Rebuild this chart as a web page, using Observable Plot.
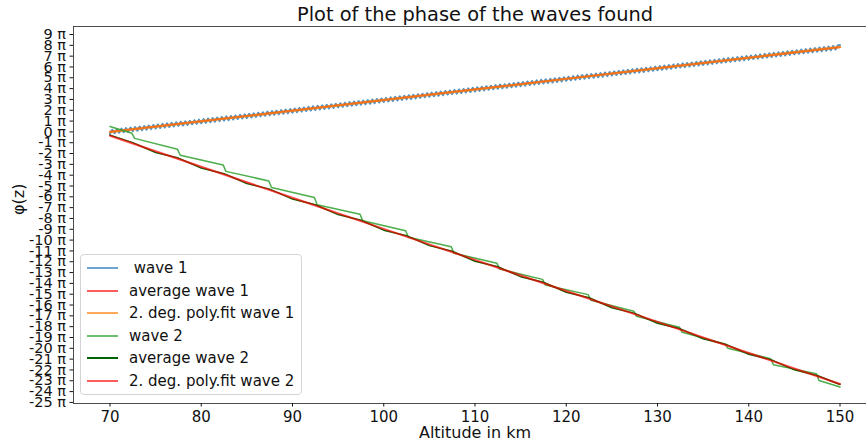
<!DOCTYPE html>
<html><head><meta charset="utf-8">
<script src="https://cdn.jsdelivr.net/npm/d3@7"></script>
<script src="https://cdn.jsdelivr.net/npm/@observablehq/plot@0.6"></script>
<style>
body{margin:0;overflow:hidden;background:#fff;font-family:"DejaVu Sans",sans-serif;}
#wrap{position:relative;width:866px;height:445px;overflow:hidden;}
.legend{position:absolute;left:80px;top:254px;width:220px;height:139px;border:1px solid #d4d4d4;border-radius:4px;background:rgba(255,255,255,0.8);font-family:"DejaVu Sans",sans-serif;font-size:15px;color:#111;}
.row{position:absolute;left:0;height:20px;line-height:20px;white-space:pre;}
.row .ln{position:absolute;left:6px;width:31px;height:2px;top:9px;}
.row .tx{position:absolute;left:48px;top:0;}
</style></head><body><div id="wrap"></div>
<script>
const title = "Plot of the phase of the waves found";
const xLabel = "Altitude in km";
const yLabel = "φ(z)";
const seriesNames = [" wave 1", "average wave 1", "2. deg. poly.fit wave 1", "wave 2", "average wave 2", "2. deg. poly.fit wave 2"];
const xTicks = [70, 80, 90, 100, 110, 120, 130, 140, 150];
const yTicks = d3.range(-25, 10);

// wave 1: sampled every 0.25 km from 70 km (phase in units of π)
const wave1Start = 70, wave1Step = 0.25;
const wave1 = [
-0.18,0.20,-0.13,0.25,-0.08,0.30,-0.03,0.35,0.02,0.40,0.07,0.45,0.11,0.49,0.16,0.54,0.21,0.59,0.26,0.64,
0.31,0.69,0.36,0.74,0.41,0.79,0.46,0.84,0.51,0.89,0.56,0.94,0.60,0.98,0.65,1.03,0.70,1.08,0.75,1.13,
0.80,1.18,0.85,1.23,0.90,1.28,0.95,1.33,1.00,1.38,1.05,1.43,1.09,1.47,1.14,1.52,1.19,1.57,1.24,1.62,
1.29,1.67,1.34,1.72,1.39,1.77,1.44,1.82,1.49,1.87,1.54,1.92,1.58,1.96,1.63,2.01,1.68,2.06,1.73,2.11,
1.78,2.16,1.83,2.21,1.88,2.26,1.93,2.31,1.98,2.36,2.03,2.41,2.07,2.45,2.12,2.50,2.17,2.55,2.22,2.60,
2.27,2.65,2.32,2.70,2.37,2.75,2.42,2.80,2.47,2.85,2.52,2.90,2.56,2.94,2.61,2.99,2.66,3.04,2.71,3.09,
2.76,3.14,2.81,3.19,2.86,3.24,2.91,3.29,2.96,3.34,3.01,3.39,3.05,3.43,3.10,3.48,3.15,3.53,3.20,3.58,
3.25,3.63,3.30,3.68,3.35,3.73,3.40,3.78,3.45,3.83,3.50,3.88,3.54,3.92,3.59,3.97,3.64,4.02,3.69,4.07,
3.74,4.12,3.79,4.17,3.84,4.22,3.89,4.27,3.94,4.32,3.99,4.37,4.03,4.41,4.08,4.46,4.13,4.51,4.18,4.56,
4.23,4.61,4.28,4.66,4.33,4.71,4.38,4.76,4.43,4.81,4.48,4.86,4.52,4.90,4.57,4.95,4.62,5.00,4.67,5.05,
4.72,5.10,4.77,5.15,4.82,5.20,4.87,5.25,4.92,5.30,4.97,5.35,5.01,5.39,5.06,5.44,5.11,5.49,5.16,5.54,
5.21,5.59,5.26,5.64,5.31,5.69,5.36,5.74,5.41,5.79,5.46,5.84,5.50,5.88,5.55,5.93,5.60,5.98,5.65,6.03,
5.70,6.08,5.75,6.13,5.80,6.18,5.85,6.23,5.90,6.28,5.95,6.33,5.99,6.37,6.04,6.42,6.09,6.47,6.14,6.52,
6.19,6.57,6.24,6.62,6.29,6.67,6.34,6.72,6.39,6.77,6.44,6.82,6.48,6.86,6.53,6.91,6.58,6.96,6.63,7.01,
6.68,7.06,6.73,7.11,6.78,7.16,6.83,7.21,6.88,7.26,6.93,7.31,6.97,7.35,7.02,7.40,7.07,7.45,7.12,7.50,
7.17,7.55,7.22,7.60,7.27,7.65,7.32,7.70,7.37,7.75,7.42,7.80,7.46,7.84,7.51,7.89,7.56,7.94,7.61,7.99,
8.04
];

const fitKm = [70, 80, 90, 100, 110, 120, 130, 140, 150];
const avg1 = [0.02, 0.99, 1.97, 2.95, 3.93, 4.91, 5.88, 6.86, 7.82];
const fit1 = [0.00, 0.98, 1.96, 2.94, 3.92, 4.90, 5.88, 6.86, 7.84];

const wave2Km = [70, 72.4, 72.7, 77.4, 77.7, 82.4, 82.7, 87.4, 87.7, 92.4, 92.7, 97.4, 97.7, 102.4, 102.7,
  107.4, 107.7, 112.4, 112.7, 117.4, 117.7, 122.4, 122.7, 127.4, 127.7, 132.4, 132.7, 137.4, 137.7,
  142.4, 142.7, 147.4, 147.7, 150];
const wave2 = [0.50, -0.13, -0.60, -1.61, -2.16, -3.05, -3.65, -4.53, -5.14, -6.07, -6.73, -7.61, -8.22, -9.13, -9.73,
  -10.61, -11.21, -12.13, -12.68, -13.63, -14.14, -15.04, -15.56, -16.57, -17.05, -18.05, -18.52, -19.59, -19.99,
  -20.96, -21.51, -22.34, -22.97, -23.58];

const avg2Km = [70, 72.5, 75, 77.5, 80, 82.5, 85, 87.5, 90, 92.5, 95, 97.5, 100, 102.5, 105, 107.5, 110,
  112.5, 115, 117.5, 120, 122.5, 125, 127.5, 130, 132.5, 135, 137.5, 140, 142.5, 145, 147.5, 150];
const avg2 = [-0.30, -0.99, -1.90, -2.42, -3.34, -3.86, -4.77, -5.29, -6.21, -6.73, -7.64, -8.16, -9.08, -9.59,
  -10.51, -11.03, -11.95, -12.46, -13.38, -13.90, -14.82, -15.33, -16.25, -16.77, -17.68, -18.20, -19.12,
  -19.64, -20.55, -21.07, -21.99, -22.51, -23.35];

const fit2 = [-0.35, -3.22, -6.09, -8.96, -11.83, -14.70, -17.56, -20.43, -23.30];

const colors = ["#1f77b4", "#ff0000", "#ff7f0e", "#2ca02c", "#006400", "#ff0000"];
const opac = [0.8, 0.7, 0.8, 0.85, 1, 0.7];
const widths = [2, 1.5, 2.5, 1.5, 1.5, 2];
const legendColors = ["#6fa3cf", "#ff5c5c", "#ffa85a", "#6cbd6c", "#006400", "#ff5c5c"];

const chart = Plot.plot({
  width: 866, height: 445,
  marginTop: 26, marginBottom: 42, marginLeft: 73, marginRight: -10,
  style: {fontFamily: "DejaVu Sans", background: "white", color: "#111"},
  x: {domain: [66, 154]},
  y: {domain: [-25.1, 9.74]},
  marks: [
    Plot.axisX({ticks: xTicks, tickSize: 3.5, tickPadding: 4, fontSize: 15, label: null}),
    Plot.axisY({ticks: yTicks, tickFormat: d => `${d} π`, tickSize: 3.5, tickPadding: 4, fontSize: 14.5, label: null}),
    Plot.line(wave1, {x: (d, i) => wave1Start + i * wave1Step, y: d => d, stroke: colors[0], strokeOpacity: opac[0], strokeWidth: widths[0]}),
    Plot.line(avg1, {x: fitKm, y: avg1, stroke: colors[1], strokeOpacity: opac[1], strokeWidth: widths[1]}),
    Plot.line(fit1, {x: fitKm, y: fit1, stroke: colors[2], strokeOpacity: opac[2], strokeWidth: widths[2]}),
    Plot.line(wave2, {x: wave2Km, y: wave2, stroke: colors[3], strokeOpacity: opac[3], strokeWidth: widths[3]}),
    Plot.line(avg2, {x: avg2Km, y: avg2, stroke: colors[4], strokeOpacity: opac[4], strokeWidth: widths[4]}),
    Plot.line(fit2, {x: fitKm, y: fit2, stroke: colors[5], strokeOpacity: opac[5], strokeWidth: widths[5]}),
    Plot.frame({stroke: "#222", strokeWidth: 0.8}),
    Plot.text([title], {text: d => d, frameAnchor: "top", lineAnchor: "middle", dy: -12, fontSize: 19.4}),
    Plot.text([xLabel], {text: d => d, frameAnchor: "bottom", lineAnchor: "middle", dy: 29, fontSize: 16}),
    Plot.text([yLabel], {text: d => d, frameAnchor: "left", lineAnchor: "middle", dx: -55, rotate: -90, fontSize: 16})
  ]
});
const wrap = document.getElementById("wrap");
wrap.appendChild(chart);

const leg = document.createElement("div");
leg.className = "legend";
seriesNames.forEach((name, i) => {
  const row = document.createElement("div");
  row.className = "row";
  row.style.top = (3 + i * 22.6) + "px";
  row.style.width = "220px";
  const ln = document.createElement("div");
  ln.className = "ln";
  ln.style.background = legendColors[i];
  const tx = document.createElement("div");
  tx.className = "tx";
  tx.textContent = name;
  row.appendChild(ln); row.appendChild(tx);
  leg.appendChild(row);
});
wrap.appendChild(leg);
</script>
</body></html>
